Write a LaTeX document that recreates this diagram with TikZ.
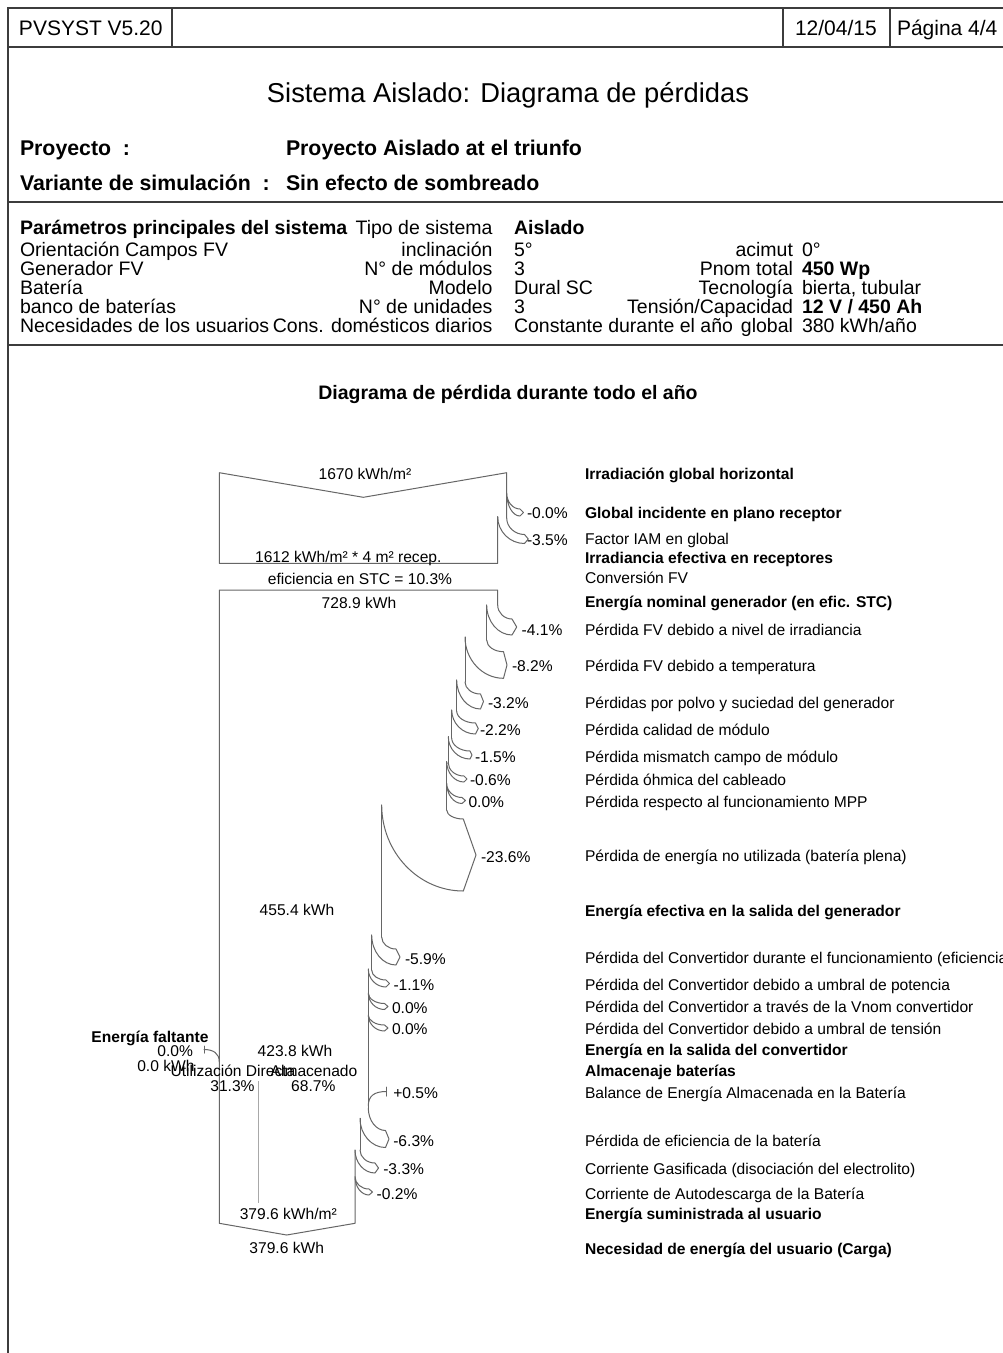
\documentclass[tikz,border=0pt]{standalone}
\usepackage{fontspec}
\setmainfont{Liberation Sans}
\definecolor{flowc}{HTML}{666666}
\definecolor{framec}{HTML}{3C3C3C}
\definecolor{splitc}{HTML}{A8A8A8}
\newcommand\dgfont{\fontsize{15.6}{16}\selectfont}
\newcommand\hdfont{\fontsize{19.5}{19.5}\selectfont}
\tikzset{
  flow/.style={draw=flowc, line width=1pt, line join=round, line cap=round},
  frameline/.style={draw=framec, line width=1.6pt},
  txt/.style={inner sep=0pt, outer sep=0pt},
  hl/.style={txt, anchor=mid west, font=\hdfont, yshift=-5pt},
  hlb/.style={txt, anchor=mid west, font=\hdfont\bfseries, yshift=-5pt},
  hr/.style={txt, anchor=mid east, font=\hdfont, yshift=-5pt},
  dl/.style={txt, anchor=mid west, font=\dgfont, yshift=-4pt},
  dlb/.style={txt, anchor=mid west, font=\dgfont\bfseries, yshift=-4pt},
  dc/.style={txt, anchor=mid, font=\dgfont, yshift=-4pt},
  dr/.style={txt, anchor=mid east, font=\dgfont, yshift=-4pt},
}
% loss band: #1 x old, #2 x new, #3 y start outer, #4 y start inner, #5 x chevron ends, #6 x tip, #7 y tip, #8 half height
\newcommand\lossband[8]{%
  \pgfmathsetmacro\lyA{#7-#8}%
  \pgfmathsetmacro\lyB{#7+#8}%
  \pgfmathsetmacro\lcoA{#3+0.55*(\lyA-#3)}%
  \pgfmathsetmacro\lcxA{#5-0.55*(#5-#1)}%
  \pgfmathsetmacro\lciB{#4+0.55*(\lyB-#4)}%
  \pgfmathsetmacro\lcxB{#5-0.55*(#5-#2)}%
  \draw[flow] (#1,#3) .. controls (#1,\lcoA) and (\lcxA,\lyA) .. (#5,\lyA)
     -- (#6,#7) -- (#5,\lyB) .. controls (\lcxB,\lyB) and (#2,\lciB) .. (#2,#4);
}
\begin{document}
\begin{tikzpicture}[x=1pt,y=-1pt]
\useasboundingbox (0,0) rectangle (1003,1353);
\clip (0,0) rectangle (1003,1353);
\fill[white] (0,0) rectangle (1003,1353);

% ---------- frame ----------
\draw[frameline] (8,1353) -- (8,8) -- (1003,8);
\draw[frameline] (8,47) -- (1003,47);
\draw[frameline] (8,202) -- (1003,202);
\draw[frameline] (8,345) -- (1003,345);
\draw[frameline] (172,8) -- (172,47);
\draw[frameline] (783,8) -- (783,47);
\draw[frameline] (890,8) -- (890,47);

\node[txt, anchor=mid west, font=\fontsize{21}{21}\selectfont] (pv) at (19,33) {PVSYST V5.20};
\node[txt, anchor=mid west, font=\fontsize{21}{21}\selectfont] (date) at (795,33) {12/04/15};
\node[txt, anchor=mid west, font=\fontsize{21}{21}\selectfont] (page) at (897,33) {Página 4/4};

\node[txt, anchor=mid, font=\fontsize{27.3}{28}\selectfont] (title) at (508,100) {Sistema Aislado: Diagrama de pérdidas};
\node[txt, anchor=mid west, font=\fontsize{21.3}{21}\selectfont\bfseries] (pk) at (20,153) {Proyecto\ \ :};
\node[txt, anchor=mid west, font=\fontsize{21.3}{21}\selectfont\bfseries] (pval) at (286,153) {Proyecto Aislado at el triunfo};
\node[txt, anchor=mid west, font=\fontsize{21.3}{21}\selectfont\bfseries] (vk) at (20,188) {Variante de simulación\ \ :};
\node[txt, anchor=mid west, font=\fontsize{21.3}{21}\selectfont\bfseries] (vval) at (286,188) {Sin efecto de sombreado};

% ---------- parameter table ----------
\node[hlb] (t1a) at (20,227) {Parámetros principales del sistema};
\node[hr]  (t1b) at (492.5,227) {Tipo de sistema};
\node[hlb] (t1c) at (514,227) {Aislado};

\node[hl] (t2a) at (20,249) {Orientación Campos FV};
\node[hr] (t2b) at (492.5,249) {inclinación};
\node[hl] (t2c) at (514,249) {5°};
\node[hr] (t2d) at (793,249) {acimut};
\node[hl] (t2e) at (802,249) {0°};

\node[hl] (t3a) at (20,268) {Generador FV};
\node[hr] (t3b) at (492.5,268) {N° de módulos};
\node[hl] (t3c) at (514,268) {3};
\node[hr] (t3d) at (793,268) {Pnom total};
\node[hlb] (t3e) at (802,268) {450 Wp};

\node[hl] (t4a) at (20,287) {Batería};
\node[hr] (t4b) at (492.5,287) {Modelo};
\node[hl] (t4c) at (514,287) {Dural SC};
\node[hr] (t4d) at (793,287) {Tecnología};
\node[hl] (t4e) at (802,287) {bierta, tubular};

\node[hl] (t5a) at (20,306) {banco de baterías};
\node[hr] (t5b) at (492.5,306) {N° de unidades};
\node[hl] (t5c) at (514,306) {3};
\node[hr] (t5d) at (793,306) {Tensión/Capacidad};
\node[hlb] (t5e) at (802,306) {12 V / 450 Ah};

\node[hl] (t6a) at (20,325) {Necesidades de los usuarios};
\node[hr] (t6b) at (492.5,325) {Cons. domésticos diarios};
\node[hl] (t6c) at (514,325) {Constante durante el año};
\node[hr] (t6d) at (793,325) {global};
\node[hl] (t6e) at (802,325) {380 kWh/año};

\node[txt, anchor=mid, font=\hdfont\bfseries] (dtitle) at (508,397) {Diagrama de pérdida durante todo el año};

% ---------- flow diagram ----------
% box 1 (irradiation)
\draw[flow] (506.7,518) -- (506.7,472.7) -- (363.3,497.3) -- (219.3,472.7) -- (219.3,563.3) -- (497.7,563.3) -- (497.7,516.7);
\lossband{506.7}{506.7}{493}{493}{520}{523.5}{512.5}{3.5}
\lossband{506.7}{497.7}{518}{516.7}{524.5}{528.3}{539}{4.5}

% box 2 (energy)
\draw[flow] (497.7,605) -- (497.7,590) -- (219.3,590) -- (219.3,1223.3) -- (286.7,1235) -- (355,1223.3) -- (355,1150);
\lossband{497.7}{486.7}{605}{605}{512}{516.7}{627}{8}
\draw[flow] (486.7,605) -- (486.7,640);
\lossband{486.7}{465}{640}{637}{503.5}{507}{665}{13.3}
\draw[flow] (465,637) -- (465,682);
\lossband{465}{456.7}{682}{680}{480.5}{483.5}{701.5}{7.5}
\draw[flow] (456.7,680) -- (456.7,711);
\lossband{456.7}{451.7}{711}{710}{475.5}{478.3}{728.5}{5.5}
\draw[flow] (451.7,710) -- (451.7,738);
\lossband{451.7}{448.3}{738}{736.7}{470}{472}{755}{4}
\draw[flow] (448.3,736.7) -- (448.3,763);
\lossband{448.3}{446.7}{763}{761.7}{464}{467}{779}{3}
\draw[flow] (446.7,761.7) -- (446.7,810);
\lossband{446.7}{446.7}{783.3}{783.3}{462}{465.5}{800.5}{3}
\lossband{446.7}{381.7}{810}{805}{463.3}{476}{855}{36}
\draw[flow] (381.7,805) -- (381.7,937);
\lossband{381.7}{371.7}{937}{935}{396}{400}{957}{8}
\draw[flow] (371.7,935) -- (371.7,970);
\lossband{371.7}{368.3}{970}{969}{386}{389.5}{983.5}{3.5}
\draw[flow] (368.3,969) -- (368.3,1110);
\lossband{368.3}{368.3}{993}{993}{384.5}{388}{1006.5}{3}
\lossband{368.3}{368.3}{1015}{1015}{384.5}{388}{1028}{3}
% battery balance gain
\draw[flow] (368.3,1106) .. controls (368.3,1096) and (374,1091.5) .. (386.5,1091.5);
\draw[flow] (386.5,1087) -- (386.5,1096);
\lossband{368.3}{360}{1108}{1118.3}{385.5}{389}{1139}{8.5}
\draw[flow] (360,1118.3) -- (360,1150);
\lossband{360}{355}{1150}{1150}{375}{378.5}{1168}{5}
\lossband{355}{355}{1176.7}{1176.7}{369}{372.5}{1192}{3}
% missing energy
\draw[flow] (204,1049.5) .. controls (213,1049.5) and (219.3,1053) .. (219.3,1062);
\draw[flow] (204,1046) -- (204,1053);
% split direct use / storage
\draw[draw=splitc, line width=1.6pt] (258.3,1081) -- (258.3,1203);

% values in the flow
\node[dc] (v1) at (365,473) {1670 kWh/m²};
\node[txt, anchor=base, font=\dgfont] (v2) at (348.3,562) {1612 kWh/m² * 4 m² recep.};
\node[dc] (v3) at (360,578) {eficiencia en STC = 10.3\%};
\node[dc] (v4) at (359,601.5) {728.9 kWh};
\node[dc] (v5) at (297,909) {455.4 kWh};
\node[dc] (v6) at (295,1050) {423.8 kWh};
\node[dc, font=\dgfont\bfseries] (mf) at (150,1036) {Energía faltante};
\node[dr] (mf1) at (193,1050) {0.0\%};
\node[dr] (mf2) at (194.5,1065) {0.0 kWh};
\node[dc] (ud) at (233,1070) {Utilización Directa};
\node[dc] (al) at (314,1070) {Almacenado};
\node[dc] (udp) at (232.5,1085) {31.3\%};
\node[dc] (alp) at (313.3,1085) {68.7\%};
\node[dc] (v7) at (288.3,1213) {379.6 kWh/m²};
\node[dc] (v8) at (286.7,1247) {379.6 kWh};

% percentages
\node[dl] (p1) at (527,511.5) {-0.0\%};
\node[dl] (p2) at (527,538.5) {-3.5\%};
\node[dl] (p3) at (521.7,629) {-4.1\%};
\node[dl] (p4) at (512,665) {-8.2\%};
\node[dl] (p5) at (488,701.5) {-3.2\%};
\node[dl] (p6) at (480,729) {-2.2\%};
\node[dl] (p7) at (475,756) {-1.5\%};
\node[dl] (p8) at (470,779) {-0.6\%};
\node[dl] (p9) at (468.5,800.5) {0.0\%};
\node[dl] (p10) at (481,856) {-23.6\%};
\node[dl] (p11) at (405,958) {-5.9\%};
\node[dl] (p12) at (393.5,984) {-1.1\%};
\node[dl] (p13) at (392,1006.5) {0.0\%};
\node[dl] (p14) at (392,1028) {0.0\%};
\node[dl] (p15) at (393.3,1092) {+0.5\%};
\node[dl] (p16) at (393.3,1140) {-6.3\%};
\node[dl] (p17) at (383.3,1168) {-3.3\%};
\node[dl] (p18) at (376.7,1192.7) {-0.2\%};

% descriptions
\node[dlb] (d1) at (585,473.3) {Irradiación global horizontal};
\node[dlb] (d2) at (585,511.7) {Global incidente en plano receptor};
\node[dl]  (d3) at (585,538.3) {Factor IAM en global};
\node[dlb] (d4) at (585,557.3) {Irradiancia efectiva en receptores};
\node[dl]  (d5) at (585,577.3) {Conversión FV};
\node[dlb] (d6) at (585,600.7) {Energía nominal generador (en efic. STC)};
\node[dl]  (d7) at (585,628.5) {Pérdida FV debido a nivel de irradiancia};
\node[dl]  (d8) at (585,665) {Pérdida FV debido a temperatura};
\node[dl]  (d9) at (585,701.7) {Pérdidas por polvo y suciedad del generador};
\node[dl]  (d10) at (585,729.3) {Pérdida calidad de módulo};
\node[dl]  (d11) at (585,756) {Pérdida mismatch campo de módulo};
\node[dl]  (d12) at (585,779.3) {Pérdida óhmica del cableado};
\node[dl]  (d13) at (585,800.7) {Pérdida respecto al funcionamiento MPP};
\node[dl]  (d14) at (585,855) {Pérdida de energía no utilizada (batería plena)};
\node[dlb] (d15) at (585,910) {Energía efectiva en la salida del generador};
\node[dl]  (d16) at (585,957.3) {Pérdida del Convertidor durante el funcionamiento (eficiencia)};
\node[dl]  (d17) at (585,984) {Pérdida del Convertidor debido a umbral de potencia};
\node[dl]  (d18) at (585,1005.7) {Pérdida del Convertidor a través de la Vnom convertidor};
\node[dl]  (d19) at (585,1027.7) {Pérdida del Convertidor debido a umbral de tensión};
\node[dlb] (d20) at (585,1049.3) {Energía en la salida del convertidor};
\node[dlb] (d21) at (585,1070) {Almacenaje baterías};
\node[dl]  (d22) at (585,1091.7) {Balance de Energía Almacenada en la Batería};
\node[dl]  (d23) at (585,1140) {Pérdida de eficiencia de la batería};
\node[dl]  (d24) at (585,1168.3) {Corriente Gasificada (disociación del electrolito)};
\node[dl]  (d25) at (585,1192.7) {Corriente de Autodescarga de la Batería};
\node[dlb] (d26) at (585,1213.3) {Energía suministrada al usuario};
\node[dlb] (d27) at (585,1247.7) {Necesidad de energía del usuario (Carga)};
\end{tikzpicture}
\end{document}
